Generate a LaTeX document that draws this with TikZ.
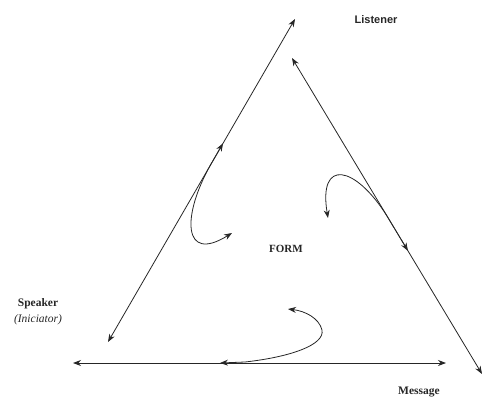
\documentclass[tikz,border=0pt]{standalone}
\usepackage{fontspec}
\setmainfont{Liberation Serif}
\newfontfamily\labsans{Liberation Sans}
\usetikzlibrary{arrows.meta,calc}
\tikzset{
  edge/.style={draw=black!85, line width=0.8pt, {Stealth[length=8pt,width=6pt]}-{Stealth[length=8pt,width=6pt]}},
  loop/.style={draw=black!85, line width=0.8pt, {Stealth[length=8pt,width=6pt]}-{Stealth[length=8pt,width=6pt]}},
  lab/.style={inner sep=0pt, text=black!85, font=\fontsize{11.5}{13}\selectfont\bfseries},
}
\begin{document}
\begin{tikzpicture}[x=1pt,y=-1pt]
\useasboundingbox (0,0) rectangle (482,399);
% corner coordinates
\coordinate (L1) at (108,342);
\coordinate (L2) at (295,19);
\coordinate (R1) at (292,58);
\coordinate (R2) at (482,374);
\coordinate (B1) at (73,363);
\coordinate (B2) at (446,363);
% loop end points
\coordinate (la) at ($(L1)!0.615!(L2)$);
\coordinate (lb) at ($(L1)!0.55!(L2)$);
\coordinate (lc) at (232,233);
\coordinate (ra) at ($(R1)!0.61!(R2)$);
\coordinate (rb) at ($(R1)!0.50!(R2)$);
\coordinate (rc) at (328,218);
\coordinate (ba) at (220,363);
\coordinate (bb) at (245,362);
\coordinate (bm) at (322,330);
\coordinate (bc) at (288,309);
% triangle edges
\draw[edge] (L1) -- (L2);
\draw[edge] (R1) -- (R2);
\draw[edge] (B1) -- (B2);
% loops
\draw[loop] (la) -- (lb) .. controls (182,215) and (182,264) .. (lc);
\draw[loop] (ra) -- (rb) .. controls (355,165) and (318,158) .. (rc);
\draw[loop] (ba) -- (bb) .. controls (290,357) and (325,345) .. (bm) .. controls (319,318) and (305,311) .. (bc);
% labels
\node[lab, font=\labsans\fontsize{11}{13}\selectfont\bfseries] (listener) at (376,20) {Listener};
\node[lab] (speaker) at (38,304) {Speaker};
\node[lab, font=\fontsize{11.5}{13}\selectfont\itshape] (initiator) at (38,320) {(Iniciator)};
\node[lab, font=\fontsize{11}{13}\selectfont\bfseries] (form) at (286,249) {FORM};
\node[lab] (message) at (419,392) {Message};
\end{tikzpicture}
\end{document}
